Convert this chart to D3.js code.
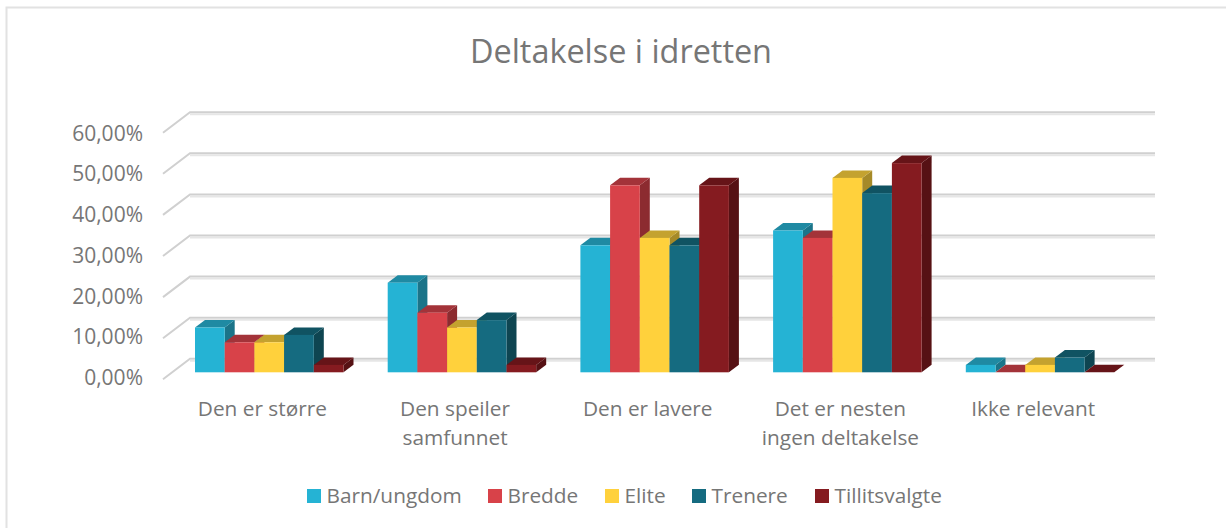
<!DOCTYPE html>
<html>
<head>
<meta charset="utf-8">
<script src="https://cdnjs.cloudflare.com/ajax/libs/d3/7.8.5/d3.min.js"></script>
<style>
  html, body { margin: 0; padding: 0; background: #fff; }
  text { font-family: "Open Sans", sans-serif; fill: #767676; }
</style>
</head>
<body>
<div id="graph"></div>
<script>
const categories = ["Den er større", "Den speiler samfunnet", "Den er lavere", "Det er nesten ingen deltakelse", "Ikke relevant"];
const category_lines = [["Den er større"], ["Den speiler", "samfunnet"], ["Den er lavere"], ["Det er nesten", "ingen deltakelse"], ["Ikke relevant"]];
const series = ["Barn/ungdom", "Bredde", "Elite", "Trenere", "Tillitsvalgte"];
const barn = [10.9, 21.8, 30.9, 34.5, 1.8];
const bredde = [7.3, 14.5, 45.5, 32.7, 0];
const elite = [7.3, 10.9, 32.7, 47.3, 1.8];
const trenere = [9.1, 12.7, 30.9, 43.6, 3.6];
const tillitsvalgte = [1.8, 1.8, 45.5, 50.9, 0];
const values = [barn, bredde, elite, trenere, tillitsvalgte];
const ticks = [0, 10, 20, 30, 40, 50, 60];
const front_colors = ["#25b3d4", "#d84249", "#ffd13c", "#156b80", "#851b20"];
const top_colors = ["#1f8aa3", "#a33339", "#c4a22f", "#105362", "#661418"];
const side_colors = ["#1b7489", "#8c2b30", "#a68a28", "#0e4551", "#561114"];

const width = 1226, height = 528;
const depth_x = 10, depth_y = 7.5;

let svg = d3.select("#graph").append("svg")
    .attr("width", width)
    .attr("height", height)
    .style("display", "block");

// chart frame, only left and top show in the picture
svg.append("path")
    .attr("d", "M6.5,528V7.5H1226")
    .attr("fill", "none")
    .attr("stroke", "#e2e2e2")
    .attr("stroke-width", 2);

let x = d3.scaleBand().domain(categories).range([173, 1136.5]);
let x_bar = d3.scaleBand().domain(series).range([22, 170.5]);
let y = d3.scaleLinear().domain([0, 60]).range([372.3, 125.7]);
let y_label = d3.scaleLinear().domain([0, 60]).range([385, 140.5]);

// grid: back wall plus the slanted part on the side wall
let grid = svg.append("g");
ticks.forEach(function(t) {
    let back_y = y(t) - 13.5;
    grid.append("path")
        .attr("d", `M163,${back_y + 20.5}L190,${back_y}H1155`)
        .attr("fill", "none")
        .attr("stroke", "#d0d0d0")
        .attr("stroke-width", 2);
    grid.append("path")
        .attr("d", `M190,${back_y + 2}H1155`)
        .attr("fill", "none")
        .attr("stroke", "#e6e6e6")
        .attr("stroke-width", 2);
});

// bars are drawn back to front, left to right, so the sides overlap correctly
let bars = svg.append("g");
categories.forEach(function(c, ci) {
    series.forEach(function(s, si) {
        let x0 = x(c) + x_bar(s), w = x_bar.bandwidth();
        let top = y(values[si][ci]), bottom = y(0);
        let g = bars.append("g");
        g.append("path")
            .attr("d", `M${x0 + w},${top}l${depth_x},${-depth_y}V${bottom - depth_y}L${x0 + w},${bottom}Z`)
            .attr("fill", side_colors[si]);
        g.append("path")
            .attr("d", `M${x0},${top}l${depth_x},${-depth_y}h${w}l${-depth_x},${depth_y}Z`)
            .attr("fill", top_colors[si]);
        g.append("rect")
            .attr("x", x0).attr("y", top)
            .attr("width", w).attr("height", bottom - top)
            .attr("fill", front_colors[si]);
    });
});

// y labels
svg.append("g").selectAll("text").data(ticks).enter().append("text")
    .attr("x", 143)
    .attr("y", d => y_label(d))
    .attr("text-anchor", "end")
    .style("font-size", "21px")
    .text(d => d3.format(".2f")(d).replace(".", ",") + "%");

// x labels
category_lines.forEach(function(lines, i) {
    lines.forEach(function(line, j) {
        svg.append("text")
            .attr("x", x(categories[i]) + x.bandwidth() / 2 - 7)
            .attr("y", 416 + j * 29)
            .attr("text-anchor", "middle")
            .style("font-size", "20.8px")
            .text(line);
    });
});

svg.append("text")
    .attr("x", 621).attr("y", 63)
    .attr("text-anchor", "middle")
    .style("font-size", "32.4px")
    .text("Deltakelse i idretten");

// legend
const legend_x = [307, 488, 605, 692, 815];
series.forEach(function(s, i) {
    svg.append("rect")
        .attr("x", legend_x[i]).attr("y", 489)
        .attr("width", 14).attr("height", 14)
        .attr("fill", front_colors[i]);
    svg.append("text")
        .attr("x", legend_x[i] + 19.5).attr("y", 503)
        .style("font-size", "20.8px")
        .text(s);
});
</script>
</body>
</html>
